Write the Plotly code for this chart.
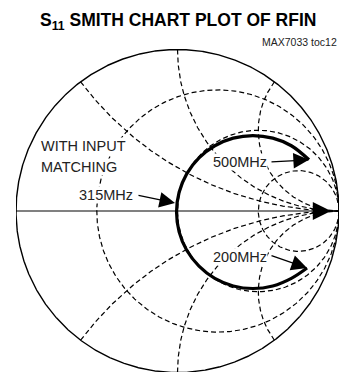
import numpy as np
import plotly.graph_objects as go

# ---------------- data ----------------
title_text = "S<sub>11</sub> SMITH CHART PLOT OF RFIN"
toc_text = "MAX7033 toc12"
resistance_circles = [1 / 3, 1.0, 3.0]          # constant-r grid circles
reactance_arcs = [0.5, 1.0, 2.0, -0.5, -1.0, -2.0]  # constant-x grid arcs
# S11 (reflection coefficient), 200MHz -> 500MHz
s11_re = [0.802, 0.705, 0.590, 0.467, 0.345, 0.231, 0.133, 0.057, 0.010, -0.006,
          0.010, 0.057, 0.133, 0.231, 0.345, 0.467, 0.590, 0.705, 0.814]
s11_im = [-0.353, -0.417, -0.464, -0.480, -0.464, -0.417, -0.341, -0.243, -0.129, -0.006,
          0.116, 0.230, 0.329, 0.404, 0.451, 0.467, 0.451, 0.404, 0.317]
freq_labels = ["200MHz", "315MHz", "500MHz"]
note_lines = ["WITH INPUT", "MATCHING"]

# ---------------- layout helpers ----------------
W, H = 342, 372
CX, CY, R = 177.5, 211.0, 161.5
ML, MR, MT, MB = 16, 3, 40, 0


def gx(px):
    return (px - CX) / R


def gy(py):
    return (CY - py) / R


def paper_x(px):
    return (px - ML) / (W - ML - MR)


def paper_y(py):
    return (H - MB - py) / (H - MT - MB)


FONT = "Liberation Sans, Arial, sans-serif"
DASH = "5px,3px"

fig = go.Figure()

# constant resistance circles
t = np.linspace(-np.pi / 2 + 1e-4, np.pi / 2 - 1e-4, 600)
for r in resistance_circles:
    z = r + 1j * np.tan(t)
    g = (z - 1) / (z + 1)
    fig.add_trace(go.Scatter(x=g.real, y=g.imag, mode="lines",
                             line=dict(color="black", width=1.2, dash=DASH),
                             hoverinfo="skip", showlegend=False))

# constant reactance arcs
t2 = np.linspace(0, np.pi / 2 - 1e-4, 600)
for xv in reactance_arcs:
    z = np.tan(t2) + 1j * xv
    g = (z - 1) / (z + 1)
    fig.add_trace(go.Scatter(x=g.real, y=g.imag, mode="lines",
                             line=dict(color="black", width=1.2, dash=DASH),
                             hoverinfo="skip", showlegend=False))

# outer boundary (r = 0)
z = 0 + 1j * np.tan(np.linspace(-np.pi / 2 + 1e-5, np.pi / 2 - 1e-5, 1500))
g = (z - 1) / (z + 1)
fig.add_trace(go.Scatter(x=np.append(g.real, 1.0), y=np.append(g.imag, 0.0), mode="lines",
                         line=dict(color="black", width=1.4),
                         hoverinfo="skip", showlegend=False))

# S11 trace
fig.add_trace(go.Scatter(x=s11_re, y=s11_im, mode="lines",
                         line=dict(color="black", width=3.2, shape="spline"),
                         showlegend=False))

ann = []
# title (paper coordinates: it lies above the plot area)
ann.append(dict(x=paper_x(177.5), y=paper_y(22), xref="paper", yref="paper",
                text="<b>" + title_text + "</b>",
                showarrow=False, xanchor="center", yanchor="middle",
                font=dict(family=FONT, size=17.5, color="black")))
ann.append(dict(x=paper_x(339), y=paper_y(42), xref="paper", yref="paper", text=toc_text,
                showarrow=False, xanchor="right", yanchor="middle",
                font=dict(family=FONT, size=10.5, color="#222")))
# note
lab_font = dict(family=FONT, size=14.5, color="#222")
lab = dict(showarrow=False, yanchor="middle", font=lab_font, bgcolor="white", borderpad=0,
           xref="x", yref="y")
ann.append(dict(x=gx(40), y=gy(145.5), text=note_lines[0], xanchor="left", **lab))
ann.append(dict(x=gx(40), y=gy(166.5), text=note_lines[1], xanchor="left", **lab))
# frequency labels
ann.append(dict(x=gx(268), y=gy(256.5), text=freq_labels[0], xanchor="right", **lab))
ann.append(dict(x=gx(134), y=gy(194.5), text=freq_labels[1], xanchor="right", **lab))
ann.append(dict(x=gx(268), y=gy(162), text=freq_labels[2], xanchor="right", **lab))

arrow_style = dict(showarrow=True, arrowhead=2, arrowsize=2.4, arrowwidth=1.3,
                   arrowcolor="black", text="", xref="x", yref="y", axref="x", ayref="y")
# 200 MHz arrow -> start of trace
ann.append(dict(x=s11_re[0], y=s11_im[0], ax=gx(270), ay=gy(255), **arrow_style))
# 315 MHz arrow
ann.append(dict(x=gx(175), y=gy(203), ax=gx(137), ay=gy(195), **arrow_style))
# 500 MHz arrow -> end of trace
ann.append(dict(x=s11_re[-1], y=s11_im[-1], ax=gx(270), ay=gy(162), **arrow_style))
# arrowhead on the real axis
axis_arrow = dict(arrow_style, arrowsize=2.8)
ann.append(dict(x=gx(331), y=0, ax=gx(318), ay=0, **axis_arrow))

fig.update_layout(
    width=W, height=H,
    margin=dict(l=ML, r=MR, t=MT, b=MB),
    paper_bgcolor="white", plot_bgcolor="white",
    annotations=ann,
    xaxis=dict(range=[gx(ML), gx(W - MR)], visible=True, showgrid=False, zeroline=False,
               showticklabels=False, ticks="", showline=False),
    yaxis=dict(range=[gy(H - MB), gy(MT)], showgrid=False, zeroline=True,
               zerolinecolor="#808080", zerolinewidth=2,
               showticklabels=False, ticks="", showline=False),
)

fig.write_html("out.html", config={"displayModeBar": False},
               post_script="document.body.style.margin='0';document.body.style.overflow='hidden';")
